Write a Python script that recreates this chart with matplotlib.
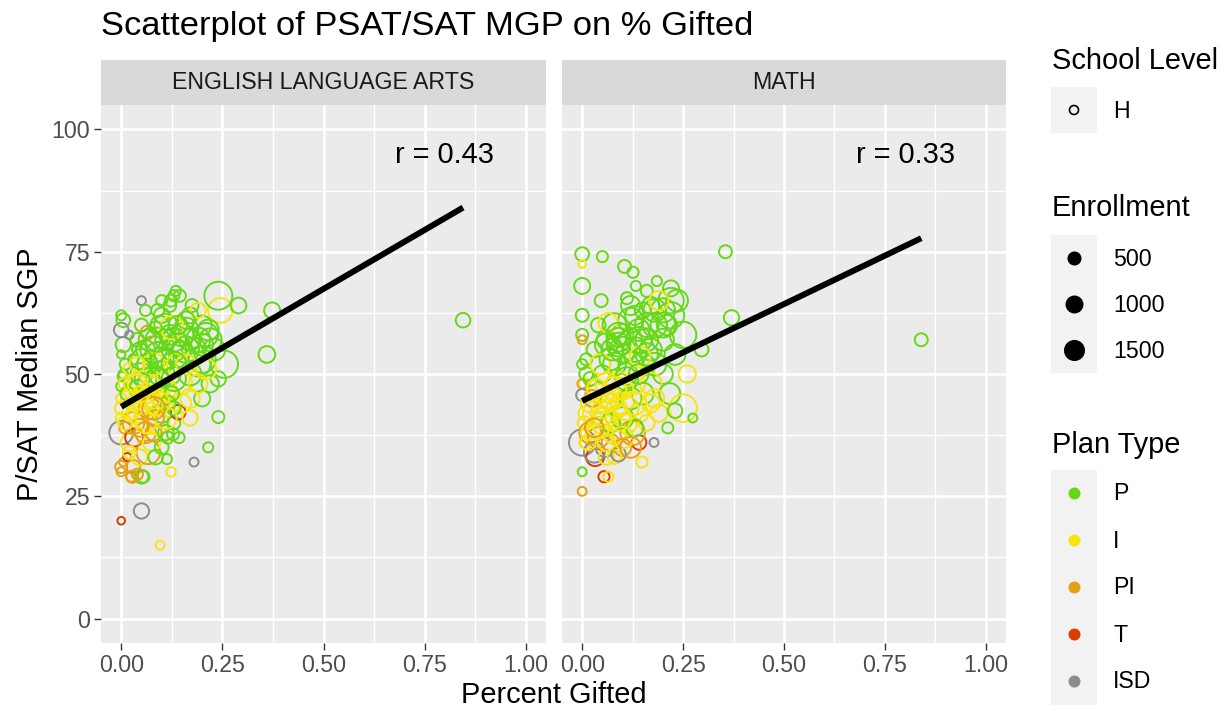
import numpy as np
import matplotlib
matplotlib.use("Agg")
import matplotlib.pyplot as plt
from matplotlib.patches import Rectangle

plt.rcParams['font.family'] = ['Liberation Sans', 'DejaVu Sans']

# ---------------- data ----------------
plan_types = ['P', 'I', 'PI', 'T', 'ISD']
plan_colors = {'P': '#66D916', 'I': '#F5E50F', 'PI': '#E6A015', 'T': '#DC3C00', 'ISD': '#8C8C8C'}
subjects = ['ENGLISH LANGUAGE ARTS', 'MATH']
r_labels = ['r = 0.43', 'r = 0.33']
enroll_breaks = [500, 1000, 1500]

# ELA
ela_pct = [0.0, 0.0, 0.005, 0.0, 0.0, 0.0, 0.0, 0.002, 0.005, 0.0, 0.005, 0.0, 0.005, 0.0, 0.01, 0.015, 0.01, 0.01, 0.0,
           0.025, 0.03, 0.02, 0.032, 0.045, 0.05, 0.055, 0.04, 0.05, 0.05, 0.02, 0.03, 0.025, 0.03, 0.04, 0.04, 0.05, 0.045,
           0.05, 0.065, 0.06, 0.055, 0.06, 0.067, 0.06, 0.07, 0.065, 0.02, 0.015, 0.02,
           0.07, 0.09, 0.11, 0.13, 0.15, 0.17, 0.19, 0.06, 0.08, 0.1, 0.12, 0.14, 0.16, 0.18, 0.2, 0.22,
           0.08, 0.09, 0.085, 0.09, 0.1, 0.1, 0.11, 0.11, 0.12, 0.095, 0.1, 0.12, 0.123, 0.13, 0.135, 0.145, 0.075, 0.08,
           0.085, 0.096, 0.123, 0.1, 0.11, 0.12, 0.115, 0.113, 0.13, 0.141, 0.143, 0.128, 0.18, 0.215, 0.24,
           0.13, 0.14, 0.15, 0.15, 0.16, 0.17, 0.17, 0.125, 0.19, 0.2, 0.21, 0.245, 0.24, 0.29, 0.373, 0.36, 0.845,
           0.255, 0.23, 0.22, 0.24, 0.2, 0.2, 0.17, 0.175, 0.19, 0.215, 0.1, 0.09, 0.085, 0.04, 0.08, 0.09, 0.06, 0.11,
           0.14, 0.16, 0.13, 0.15, 0.17, 0.19, 0.21, 0.16, 0.06, 0.045, 0.07, 0.085, 0.1, 0.115, 0.125, 0.13,
           0.05, 0.07, 0.09, 0.11, 0.04, 0.06, 0.08, 0.03, 0.13,
           0.01, 0.02, 0.03, 0.05, 0.04, 0.027, 0.0]
ela_sgp = [20, 30, 32, 38, 41, 43, 47.5, 49.5, 50, 54, 56, 59, 61, 45, 39, 33, 48, 52, 62,
           29, 31, 36, 37, 33, 29, 29, 29.5, 22, 65, 58, 53, 45, 40, 42, 47, 50, 55,
           60, 58.5, 63, 44, 38, 34, 41, 48, 52, 42, 46, 51,
           57, 54, 60, 57, 54, 57, 52, 49, 47, 53, 50, 56, 59, 55, 56, 57,
           55, 57, 45, 40, 50, 42, 53, 47, 58, 60, 62, 64, 65, 66, 67, 66, 36, 38,
           33, 15, 30, 35, 38, 43, 37, 32.6, 40, 42.2, 37, 37.7, 32, 35, 41.2,
           55, 52, 58, 48, 55, 50, 45, 59.5, 57, 53, 58, 63, 66, 64, 63, 54, 61,
           52, 55, 48, 49, 45, 60, 62, 64, 63, 59, 65, 63, 59.5, 57, 52, 49, 55, 57,
           60, 61, 49, 44, 41, 48, 51, 52, 46, 39, 43, 41, 45, 44, 46, 43,
           53, 45, 44, 41, 48, 40, 43, 48, 52,
           40, 34, 44, 46, 52, 29, 31]
ela_enr = [100, 200, 150, 2400, 400, 600, 300, 200, 250, 150, 900, 800, 700, 300, 500, 150, 600, 400, 300,
           300, 700, 1200, 1300, 1000, 700, 500, 400, 900, 200, 150, 300, 1800, 2000, 1500, 1200, 2000, 800,
           600, 700, 400, 1600, 1800, 2400, 2200, 2500, 1800, 900, 700, 500,
           2000, 2600, 2200, 2400, 2800, 2000, 2600, 2000, 2200, 2400, 2000, 2200, 2600, 2400, 2000, 2200,
           3000, 2500, 2400, 2000, 2800, 1500, 2200, 1800, 1600, 1400, 900, 600, 500, 400, 300, 500, 1200, 1000,
           800, 200, 250, 700, 900, 1300, 500, 300, 600, 800, 400, 500, 200, 300, 500,
           2500, 2000, 2200, 1800, 3000, 2200, 1500, 2300, 2500, 3200, 2400, 2600, 3400, 950, 1000, 1100, 800,
           3200, 2000, 1200, 900, 1000, 1500, 1000, 600, 900, 1800, 400, 600, 500, 700, 2000, 2200, 1500, 1800,
           1400, 1200, 2500, 1400, 900, 1400, 1700, 1600, 1700, 1300, 1900, 1100, 1300, 900, 800, 700,
           1800, 2000, 2400, 2000, 1600, 1800, 2200, 1400, 2600,
           700, 600, 1000, 1100, 900, 500, 500]
ela_plan = ['T', 'PI', 'PI', 'ISD', 'I', 'I', 'P', 'P', 'P', 'P', 'P', 'ISD', 'P', 'I', 'PI', 'T', 'I', 'P', 'P',
            'PI', 'PI', 'I', 'T', 'I', 'P', 'P', 'PI', 'ISD', 'ISD', 'ISD', 'P', 'I', 'PI', 'I', 'P', 'P', 'P',
            'P', 'PI', 'P', 'I', 'PI', 'PI', 'I', 'P', 'P', 'I', 'P', 'I',
            'P', 'P', 'P', 'P', 'P', 'P', 'P', 'P', 'I', 'P', 'P', 'P', 'P', 'P', 'P', 'P',
            'P', 'P', 'I', 'I', 'P', 'P', 'P', 'I', 'P', 'P', 'P', 'P', 'P', 'P', 'P', 'P', 'I', 'PI',
            'P', 'I', 'I', 'P', 'P', 'I', 'P', 'P', 'P', 'T', 'P', 'P', 'ISD', 'P', 'P',
            'P', 'I', 'P', 'I', 'P', 'P', 'I', 'I', 'P', 'P', 'P', 'I', 'P', 'P', 'P', 'P', 'P',
            'P', 'P', 'P', 'P', 'P', 'P', 'P', 'P', 'I', 'P', 'P', 'P', 'P', 'P', 'I', 'P', 'P', 'P',
            'P', 'P', 'P', 'I', 'I', 'I', 'I', 'I', 'I', 'PI', 'PI', 'PI', 'I', 'P', 'P', 'P',
            'P', 'I', 'I', 'I', 'I', 'I', 'PI', 'I', 'P',
            'I', 'I', 'I', 'I', 'I', 'PI', 'PI']

# MATH
math_pct = [0.0, 0.0, 0.0, 0.0, 0.0, 0.0, 0.0, 0.005, 0.0, 0.0, 0.0, 0.007, 0.0, 0.0, 0.005, 0.01, 0.01, 0.01,
            0.05, 0.047, 0.032, 0.054, 0.065, 0.03, 0.057, 0.02, 0.04, 0.03, 0.05, 0.04, 0.06, 0.05, 0.03, 0.04,
            0.06, 0.02, 0.025, 0.015, 0.06, 0.07, 0.08,
            0.06, 0.08, 0.1, 0.12, 0.14, 0.16, 0.18, 0.2, 0.22, 0.07, 0.09, 0.11, 0.13, 0.15, 0.17,
            0.105, 0.126, 0.133, 0.111, 0.064, 0.09, 0.1, 0.12, 0.12, 0.14, 0.13, 0.08, 0.09, 0.1, 0.11, 0.12,
            0.13, 0.14, 0.15, 0.09, 0.1, 0.08, 0.148, 0.141, 0.178, 0.09, 0.125, 0.06,
            0.16, 0.185, 0.22, 0.235, 0.2, 0.22, 0.18, 0.16, 0.2, 0.25, 0.296, 0.23, 0.18, 0.2, 0.17, 0.26,
            0.217, 0.25, 0.274, 0.212, 0.19, 0.16, 0.18, 0.355, 0.37, 0.84, 0.15, 0.17, 0.143, 0.19, 0.07,
            0.1, 0.13, 0.23, 0.035, 0.045, 0.075, 0.02, 0.055, 0.11, 0.14, 0.09, 0.07, 0.16, 0.21, 0.12, 0.015,
            0.05, 0.07, 0.09, 0.11, 0.13, 0.04, 0.06, 0.08, 0.1, 0.12,
            0.03, 0.085, 0.1, 0.17]
math_sgp = [74.5, 72.5, 68, 62, 58, 57, 52, 48, 48, 45.7, 36, 36, 30, 26, 40, 42, 50, 53,
            74, 65, 33, 29, 29, 34, 35, 38, 37, 42, 40, 46, 44, 50, 55, 60,
            57, 49, 45, 36, 33, 36, 38,
            56, 60, 58, 61, 57, 60, 63, 60, 65, 53, 56, 50, 55, 52, 55,
            72, 70.8, 68, 65.5, 60.5, 58, 55, 57, 52, 59, 62, 52, 48, 44, 40, 45,
            48, 42, 46, 38, 35, 33, 32, 36, 36, 33.6, 38, 36,
            67, 69, 67.5, 65, 63, 62, 60, 57, 57, 58, 55, 54, 52, 50, 48, 50,
            46, 43, 41, 39, 42, 40, 45, 75, 61.5, 57, 63, 64, 53.5, 65, 40,
            41, 39, 42.5, 47, 52, 55, 44, 41, 49, 50, 57, 46, 54, 60, 64, 38,
            42, 45, 41, 43, 44, 39, 48, 47, 37, 35,
            39, 43, 47, 44]
math_enr = [700, 100, 1000, 600, 500, 200, 300, 400, 250, 500, 3000, 400, 200, 200, 600, 900, 700, 500,
            400, 600, 1300, 400, 300, 1800, 1500, 2000, 1800, 2200, 2000, 1600, 2400, 1200, 900, 800,
            1500, 700, 1100, 900, 900, 1200, 2200,
            2200, 2400, 2000, 2600, 2800, 2400, 2200, 2600, 2800, 2000, 2400, 2000, 2600, 2200, 2000,
            600, 400, 300, 500, 1500, 2500, 2800, 2200, 2500, 2000, 1500, 2200, 2500, 2200, 1800, 2000,
            1800, 1500, 2000, 1500, 1200, 700, 400, 800, 200, 800, 2600, 1200,
            500, 300, 1000, 2000, 2500, 3000, 2500, 2200, 2000, 3000, 700, 1800, 2200, 1600, 2000, 1200,
            1800, 3300, 200, 400, 1200, 1000, 1400, 600, 900, 600, 1000, 1200, 1800, 1500, 1500,
            2000, 1200, 800, 1500, 1700, 2000, 1400, 1900, 2300, 1600, 2400, 1300, 2100, 1700, 1500, 800,
            2400, 2600, 2800, 2400, 2200, 2000, 2000, 2400, 2000, 1800,
            1400, 1700, 1900, 1300]
math_plan = ['P', 'I', 'P', 'P', 'P', 'PI', 'P', 'I', 'PI', 'ISD', 'ISD', 'I', 'P', 'PI', 'I', 'I', 'P', 'P',
             'P', 'P', 'T', 'T', 'I', 'ISD', 'ISD', 'PI', 'PI', 'I', 'I', 'I', 'I', 'P', 'P', 'P',
             'P', 'P', 'PI', 'I', 'I', 'PI', 'I',
             'P', 'P', 'P', 'P', 'P', 'P', 'P', 'P', 'P', 'P', 'P', 'P', 'P', 'P', 'P',
             'P', 'P', 'P', 'P', 'I', 'P', 'P', 'P', 'P', 'P', 'P', 'P', 'I', 'I', 'I', 'P',
             'I', 'I', 'P', 'I', 'PI', 'I', 'I', 'T', 'ISD', 'ISD', 'PI', 'I',
             'P', 'P', 'P', 'P', 'P', 'P', 'P', 'P', 'P', 'P', 'P', 'P', 'P', 'P', 'I', 'I',
             'P', 'I', 'P', 'P', 'I', 'I', 'I', 'P', 'P', 'P', 'P', 'P', 'I', 'I', 'P',
             'P', 'P', 'P', 'I', 'I', 'P', 'I', 'I', 'P', 'P', 'P', 'I', 'P', 'P', 'P', 'I',
             'I', 'I', 'I', 'I', 'I', 'I', 'I', 'I', 'I', 'PI',
             'PI', 'I', 'I', 'I']

# fitted lines: (intercept, slope)
ela_fit = (43.3, 48.2)
math_fit = (44.5, 39.6)

# ---------------- figure ----------------
W, H = 1225, 711
DPI = 100
fig = plt.figure(figsize=(W / DPI, H / DPI), dpi=DPI)


def px_rect(x0, y0, x1, y1):
    return [x0 / W, 1 - y1 / H, (x1 - x0) / W, (y1 - y0) / H]


def size_pt2(enr):
    d_px = np.sqrt(36 + 0.22 * np.asarray(enr, dtype=float))
    return (d_px * 72 / DPI) ** 2


panel_px = [(101, 546), (562, 1006)]
top_px, bot_px = 105, 643
strip_top = 60

datasets = [(ela_pct, ela_sgp, ela_enr, ela_plan, ela_fit),
            (math_pct, math_sgp, math_enr, math_plan, math_fit)]

tick_fs = 16.7
for i, ((x0, x1), (px, sg, en, pl, fit)) in enumerate(zip(panel_px, datasets)):
    ax = fig.add_axes(px_rect(x0, top_px, x1, bot_px))
    ax.set_facecolor('#EBEBEB')
    for s in ax.spines.values():
        s.set_visible(False)
    ax.set_xlim(-0.05, 1.05)
    ax.set_ylim(-5, 105)
    for xv in [0.125, 0.375, 0.625, 0.875]:
        ax.axvline(xv, color='white', lw=0.95, zorder=0)
    for yv in [12.5, 37.5, 62.5, 87.5]:
        ax.axhline(yv, color='white', lw=0.95, zorder=0)
    for xv in [0, 0.25, 0.5, 0.75, 1.0]:
        ax.axvline(xv, color='white', lw=1.9, zorder=0.5)
    for yv in [0, 25, 50, 75, 100]:
        ax.axhline(yv, color='white', lw=1.9, zorder=0.5)
    ax.set_xticks([0, 0.25, 0.5, 0.75, 1.0])
    ax.set_xticklabels(['0.00', '0.25', '0.50', '0.75', '1.00'])
    ax.set_yticks([0, 25, 50, 75, 100])
    ax.tick_params(length=5.2, width=1.0, color='#333333', labelsize=tick_fs,
                   labelcolor='#4D4D4D', pad=2.5)
    if i > 0:
        ax.tick_params(axis='y', left=False, labelleft=False)

    cols = [plan_colors[p] for p in pl]
    ax.scatter(px, sg, s=size_pt2(en), facecolors='none', edgecolors=cols,
               linewidths=1.4, zorder=2)
    xs = np.array([min(px), max(px)])
    ax.plot(xs, fit[0] + fit[1] * xs, color='black', lw=4.3, zorder=3,
            solid_capstyle='butt')
    ax.text(0.80, 94.7, r_labels[i], ha='center', va='center', fontsize=20.9, color='black')

    # strip
    sax = fig.add_axes(px_rect(x0, strip_top, x1, top_px))
    sax.set_facecolor('#D9D9D9')
    sax.set_xticks([]); sax.set_yticks([])
    for s in sax.spines.values():
        s.set_visible(False)
    sax.text(0.5, 0.5, subjects[i], ha='center', va='center', fontsize=tick_fs,
             color='#1A1A1A', transform=sax.transAxes)

# titles
fig.text(101 / W, 1 - 27 / H, 'Scatterplot of PSAT/SAT MGP on % Gifted', fontsize=24.8,
         ha='left', va='center', color='black')
fig.text(553.5 / W, 1 - 695 / H, 'Percent Gifted', fontsize=20.9, ha='center', va='center')
fig.text(30 / W, 1 - 374 / H, 'P/SAT Median SGP', fontsize=20.9, ha='center', va='center',
         rotation=90)

# ---------------- legends (pixel overlay) ----------------
lax = fig.add_axes([0, 0, 1, 1])
lax.set_xlim(0, W)
lax.set_ylim(H, 0)
lax.axis('off')
lax.patch.set_visible(False)

kx0, kx1 = 1051, 1097
kc = (kx0 + kx1) / 2
lab_x = 1113

# School Level
lax.text(1052, 61, 'School Level', fontsize=20.9, ha='left', va='center')
lax.add_patch(Rectangle((kx0, 87), kx1 - kx0, 46, color='#F2F2F2', lw=0))
lax.scatter([kc], [110], s=(9 * 72 / DPI) ** 2, facecolors='none', edgecolors='black', linewidths=1.2)
lax.text(lab_x, 111, 'H', fontsize=tick_fs, ha='left', va='center')

# Enrollment
lax.text(1052, 208, 'Enrollment', fontsize=20.9, ha='left', va='center')
lax.add_patch(Rectangle((kx0, 235), kx1 - kx0, 138, color='#F2F2F2', lw=0))
for j, b in enumerate(enroll_breaks):
    yc = 258 + 46 * j
    lax.scatter([kc], [yc], s=size_pt2([b]), facecolors='black', edgecolors='black', linewidths=1.4)
    lax.text(lab_x, yc + 1, str(b), fontsize=tick_fs, ha='left', va='center')

# Plan Type
lax.text(1052, 445, 'Plan Type', fontsize=20.9, ha='left', va='center')
lax.add_patch(Rectangle((kx0, 469.5), kx1 - kx0, 235, color='#F2F2F2', lw=0))
for j, p in enumerate(plan_types):
    yc = 493 + 47 * j
    lax.scatter([kc], [yc], s=(12 * 72 / DPI) ** 2, color=plan_colors[p], linewidths=0)
    lax.text(lab_x, yc + 1, p, fontsize=tick_fs, ha='left', va='center')

fig.savefig('out.png', dpi=DPI)
